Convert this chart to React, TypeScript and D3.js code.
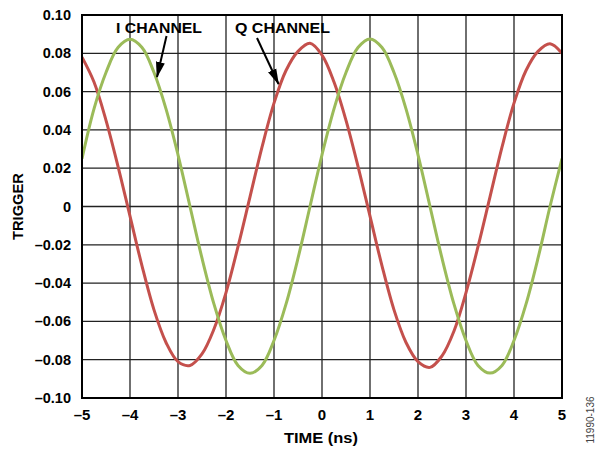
import React from "react";
import * as d3 from "d3";

const timeNs: number[] = d3.range(41).map((i) => -5 + i * 0.25);
const iChannel: number[] = [
  0.025, 0.051, 0.070, 0.083, 0.0873, 0.083, 0.070, 0.051, 0.027, 0, -0.027, -0.051, -0.070, -0.083, -0.0871,
  -0.083, -0.070, -0.051, -0.027, 0, 0.027, 0.051, 0.070, 0.083, 0.0875, 0.083, 0.070, 0.051, 0.027, 0,
  -0.027, -0.051, -0.070, -0.083, -0.087, -0.083, -0.070, -0.051, -0.027, 0, 0.025,
];
const qChannel: number[] = [
  0.078, 0.065, 0.045, 0.021, -0.005, -0.031, -0.054, -0.071, -0.081, -0.083, -0.077, -0.064, -0.045, -0.021,
  0.005, 0.031, 0.054, 0.071, 0.081, 0.0852, 0.079, 0.065, 0.045, 0.021, -0.005, -0.031, -0.054, -0.071,
  -0.081, -0.084, -0.078, -0.065, -0.045, -0.021, 0.005, 0.031, 0.054, 0.071, 0.081, 0.085, 0.080,
];
const xTicks: number[] = [-5, -4, -3, -2, -1, 0, 1, 2, 3, 4, 5];
const yTicks: number[] = [0.1, 0.08, 0.06, 0.04, 0.02, 0, -0.02, -0.04, -0.06, -0.08, -0.1];

const fmtX = (v: number) => (v < 0 ? "\u2013" + Math.abs(v) : String(v));
const fmtY = (v: number) => {
  const s = Math.abs(v).toFixed(2);
  if (v === 0) return "0";
  return v < 0 ? "\u2013" + s : s;
};

export default function App() {
  const W = 597, H = 449;
  const left = 82, right = 562, top = 15, bottom = 398;
  const x = d3.scaleLinear().domain([-5, 5]).range([left, right]);
  const y = d3.scaleLinear().domain([-0.1, 0.1]).range([bottom, top]);
  const line = d3
    .line<number>()
    .x((_, i) => x(timeNs[i]))
    .y((d) => y(d))
    .curve(d3.curveCatmullRom);
  const font = "'Liberation Sans', Arial, sans-serif";
  return (
    <svg width={W} height={H} style={{ position: "absolute", left: 0, top: 0 }} fontFamily={font}>
      <rect width={W} height={H} fill="#fff" />
      <defs>
        <clipPath id="plot">
          <rect x={left} y={top} width={right - left} height={bottom - top} />
        </clipPath>
        <marker id="arr" viewBox="0 0 16 10" refX="15" refY="5" markerWidth="16" markerHeight="10" orient="auto" markerUnits="userSpaceOnUse">
          <path d="M0,0.5 L16,5 L0,9.5 Z" fill="#000" />
        </marker>
      </defs>
      {xTicks.map((t) => (
        <line key={"gx" + t} x1={x(t)} x2={x(t)} y1={top} y2={bottom} stroke="#222" strokeWidth={1.3} />
      ))}
      {yTicks.map((t) => (
        <line key={"gy" + t} x1={left} x2={right} y1={y(t)} y2={y(t)} stroke="#222" strokeWidth={1.3} />
      ))}
      <g clipPath="url(#plot)">
        <path d={line(qChannel) || ""} fill="none" stroke="#c4504c" strokeWidth={3} />
        <path d={line(iChannel) || ""} fill="none" stroke="#9bbb59" strokeWidth={3} />
      </g>
      <rect x={left} y={top} width={right - left} height={bottom - top} fill="none" stroke="#000" strokeWidth={2} />
      {xTicks.map((t) => (
        <text key={"tx" + t} x={x(t)} y={420} textAnchor="middle" fontSize={15} fontWeight="bold">
          {fmtX(t)}
        </text>
      ))}
      {yTicks.map((t) => (
        <text key={"ty" + t} x={71} y={y(t) + 5} textAnchor="end" fontSize={14.5} fontWeight="bold">
          {fmtY(t)}
        </text>
      ))}
      <text x={321} y={443} textAnchor="middle" fontSize={15} fontWeight="bold" textLength={74} lengthAdjust="spacingAndGlyphs">TIME (ns)</text>
      <text transform={`translate(23,206.5) rotate(-90)`} textAnchor="middle" fontSize={15.5} fontWeight="bold" textLength={67} lengthAdjust="spacingAndGlyphs">
        TRIGGER
      </text>
      <text x={159} y={32.5} textAnchor="middle" fontSize={15} fontWeight="bold" textLength={86} lengthAdjust="spacingAndGlyphs">I CHANNEL</text>
      <line x1={166.5} y1={36} x2={157} y2={77} stroke="#000" strokeWidth={2} markerEnd="url(#arr)" />
      <text x={282.5} y={33} textAnchor="middle" fontSize={15} fontWeight="bold" textLength={95} lengthAdjust="spacingAndGlyphs">Q CHANNEL</text>
      <line x1={257} y1={38} x2={278.5} y2={84} stroke="#000" strokeWidth={2} markerEnd="url(#arr)" />
      <text transform="translate(594,420) rotate(-90)" textAnchor="middle" fontSize={10} fill="#444">11990-136</text>
    </svg>
  );
}
